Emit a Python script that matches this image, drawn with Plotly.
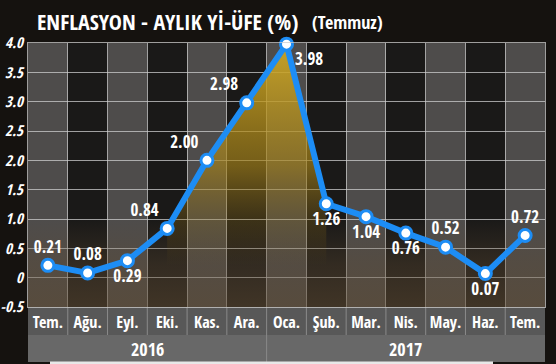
import plotly.graph_objects as go

months = ["Tem.", "Ağu.", "Eyl.", "Eki.", "Kas.", "Ara.", "Oca.", "Şub.", "Mar.", "Nis.", "May.", "Haz.", "Tem."]
years = ["2016", "2017"]
year_span = [(0, 5), (6, 12)]
values = [0.21, 0.08, 0.29, 0.84, 2.00, 2.98, 3.98, 1.26, 1.04, 0.76, 0.52, 0.07, 0.72]
labels = ["0.21", "0.08", "0.29", "0.84", "2.00", "2.98", "3.98", "1.26", "1.04", "0.76", "0.52", "0.07", "0.72"]
label_pos = ["top center", "top center", "bottom center", "top left", "top left", "top left",
             "bottom right", "bottom center", "bottom center", "bottom center", "top center",
             "bottom center", "top center"]
y_ticks = [4.0, 3.5, 3.0, 2.5, 2.0, 1.5, 1.0, 0.5, 0, -0.5]
y_ticktext = ["4.0", "3.5", "3.0", "2.5", "2.0", "1.5", "1.0", "0.5", "0", "-0.5"]

W, H = 556, 364
ML, MR, MT, MB = 28, 11, 43, 57
PH = H - MT - MB
FONT = "Noto Sans ExtraCondensed, Noto Sans Condensed, Open Sans Condensed, DejaVu Sans Condensed, sans-serif"

n = len(months)
xs = list(range(n))

def py(px):
    """pixel row -> paper y"""
    return (H - MB - px) / PH

fig = go.Figure()

# soft brownish haze at the bottom of the plot (background decoration)
fig.add_trace(go.Scatter(
    x=[-0.5, n - 0.5, n - 0.5, -0.5], y=[-0.5, -0.5, 1.0, 1.0],
    mode="none", fill="toself",
    fillgradient=dict(type="vertical", start=-0.5, stop=1.0,
                      colorscale=[[0, "rgba(95,75,50,0.55)"], [0.5, "rgba(95,75,50,0.35)"],
                                  [1, "rgba(95,75,50,0)"]]),
    hoverinfo="skip", showlegend=False))

# golden glow under the peak
gi = [3, 4, 5, 6, 7]
fig.add_trace(go.Scatter(
    x=[xs[i] for i in gi], y=[values[i] for i in gi],
    mode="none", fill="tozeroy",
    fillgradient=dict(type="vertical", start=0.2, stop=4.0,
                      colorscale=[[0, "rgba(120,90,20,0)"], [0.45, "rgba(165,130,25,0.65)"],
                                  [1, "rgba(210,170,35,0.92)"]]),
    hoverinfo="skip", showlegend=False))

fig.add_trace(go.Scatter(
    x=xs, y=values, mode="lines+markers+text",
    text=labels, textposition=label_pos,
    textfont=dict(family=FONT, size=17, color="white", weight="bold"),
    line=dict(color="#1d8df5", width=6),
    marker=dict(size=12, color="white", line=dict(color="#1d8df5", width=3)),
    cliponaxis=False, showlegend=False, hoverinfo="skip"))

shapes = []
for i in xs:
    shapes.append(dict(type="rect", xref="x", yref="y domain", x0=i - 0.5, x1=i + 0.5, y0=0, y1=1,
                       fillcolor="#4e4c4b" if i % 2 == 0 else "#1a1918", line=dict(width=0), layer="below"))
shapes.append(dict(type="rect", xref="paper", yref="paper", x0=0, x1=1, y0=py(335), y1=py(307),
                   fillcolor="#585858", line=dict(width=0), layer="below"))
shapes.append(dict(type="rect", xref="paper", yref="paper", x0=0, x1=1, y0=py(362), y1=py(335),
                   fillcolor="#686868", line=dict(width=0), layer="below"))
for i in range(1, n):
    shapes.append(dict(type="line", xref="x", yref="paper", x0=i - 0.5, x1=i - 0.5, y0=py(335), y1=py(307),
                       line=dict(color="#8a8a8a", width=1), layer="below"))
shapes.append(dict(type="line", xref="x", yref="paper", x0=year_span[1][0] - 0.5, x1=year_span[1][0] - 0.5,
                   y0=py(362), y1=py(335), line=dict(color="#8a8a8a", width=1), layer="below"))
shapes.append(dict(type="rect", xref="paper", yref="paper", x0=(50 - ML) / (W - ML - MR), x1=(493 - ML) / (W - ML - MR),
                   y0=py(364), y1=py(361.5), fillcolor="#e8e8e8", line=dict(width=0), layer="below"))

annotations = []
for yr, (a, b) in zip(years, year_span):
    annotations.append(dict(x=(a + b) / 2, y=py(348.5), xref="x", yref="paper", text=yr, showarrow=False,
                            font=dict(family=FONT, size=18, color="white", weight="bold"),
                            xanchor="center", yanchor="middle"))
annotations.append(dict(x=(35 - ML) / (W - ML - MR), y=py(21), xref="paper", yref="paper",
                        text="ENFLASYON - AYLIK Yİ-ÜFE (%)",
                        showarrow=False, xanchor="left", yanchor="middle", align="left",
                        font=dict(family=FONT, size=22, color="white", weight=900)))
annotations.append(dict(x=(310 - ML) / (W - ML - MR), y=py(22), xref="paper", yref="paper",
                        text="(Temmuz)",
                        showarrow=False, xanchor="left", yanchor="middle", align="left",
                        font=dict(family=FONT, size=18, color="white", weight=600)))

fig.update_layout(
    width=W, height=H, margin=dict(l=ML, r=MR, t=MT, b=MB, autoexpand=False),
    paper_bgcolor="#15120f", plot_bgcolor="#1a1918",
    shapes=shapes, annotations=annotations, hovermode=False,
    xaxis=dict(range=[-0.5, n - 0.5], tickvals=xs, ticktext=months, showgrid=False, zeroline=False,
               automargin=False,
               ticks="outside", ticklen=1, tickcolor="rgba(0,0,0,0)",
               tickfont=dict(family=FONT, size=16, color="white", weight="bold"),
               minor=dict(tick0=0.5, dtick=1, showgrid=True, gridcolor="rgba(205,205,205,0.75)", gridwidth=1),
               showline=True, linecolor="rgba(205,205,205,0.75)", mirror=True, fixedrange=True),
    yaxis=dict(range=[-0.5, 4.0], tickvals=y_ticks, ticktext=y_ticktext, showgrid=True,
               automargin=False,
               gridcolor="rgba(205,205,205,0.75)", gridwidth=1, zeroline=False,
               ticks="outside", ticklen=1, tickcolor="rgba(0,0,0,0)",
               tickfont=dict(family=FONT, size=15, color="white", weight="bold", style="italic"),
               showline=True, linecolor="rgba(205,205,205,0.75)", mirror=True, fixedrange=True),
)

fig.write_html("out.html", config={"displayModeBar": False, "staticPlot": True},
               post_script="document.body.style.margin='0px';document.body.style.background='#15120f';")
